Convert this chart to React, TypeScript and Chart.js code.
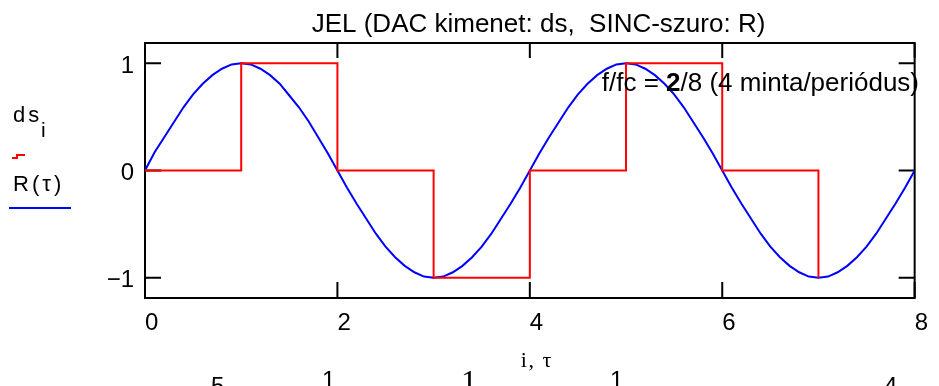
import React, { useEffect, useRef } from "react";
import { Chart, registerables } from "chart.js";

Chart.register(...registerables);

// ---- data ----
const sampleIndex = [0, 1, 2, 3, 4, 5, 6, 7];
const dsValues = [0, 1, 0, -1, 0, 1, 0, -1];

const tauValues = [
  0.0, 0.1, 0.2, 0.3, 0.4, 0.5, 0.6, 0.7, 0.8, 0.9,
  1.0, 1.1, 1.2, 1.3, 1.4, 1.5, 1.6, 1.7, 1.8, 1.9,
  2.0, 2.1, 2.2, 2.3, 2.4, 2.5, 2.6, 2.7, 2.8, 2.9,
  3.0, 3.1, 3.2, 3.3, 3.4, 3.5, 3.6, 3.7, 3.8, 3.9,
  4.0, 4.1, 4.2, 4.3, 4.4, 4.5, 4.6, 4.7, 4.8, 4.9,
  5.0, 5.1, 5.2, 5.3, 5.4, 5.5, 5.6, 5.7, 5.8, 5.9,
  6.0, 6.1, 6.2, 6.3, 6.4, 6.5, 6.6, 6.7, 6.8, 6.9,
  7.0, 7.1, 7.2, 7.3, 7.4, 7.5, 7.6, 7.7, 7.8, 7.9,
  8.0,
];
const rValues = [
  0.0, 0.17, 0.31, 0.45, 0.59, 0.71, 0.81, 0.89, 0.95, 0.99,
  1.0, 0.99, 0.95, 0.89, 0.81, 0.7, 0.59, 0.46, 0.31, 0.16,
  0.0, -0.16, -0.31, -0.45, -0.59, -0.71, -0.81, -0.89, -0.95, -0.99,
  -1.0, -0.99, -0.95, -0.89, -0.81, -0.71, -0.59, -0.45, -0.31, -0.16,
  0.0, 0.16, 0.31, 0.45, 0.59, 0.71, 0.81, 0.89, 0.95, 0.99,
  1.0, 0.99, 0.95, 0.89, 0.81, 0.71, 0.59, 0.45, 0.31, 0.16,
  0.0, -0.16, -0.31, -0.45, -0.59, -0.71, -0.81, -0.89, -0.95, -0.99,
  -1.0, -0.99, -0.95, -0.89, -0.81, -0.71, -0.59, -0.45, -0.31, -0.16,
  0.0,
];

const xTicks = [0, 2, 4, 6, 8];
const yTicks = [-1, 0, 1];

const titleText = "JEL (DAC kimenet: ds,  SINC-szuro: R)";
const noteParts = [
  { text: "f/fc = ", bold: false },
  { text: "2", bold: true },
  { text: "/8 (4 minta/periódus)", bold: false },
];
const xAxisTitle = "i, τ";

const SANS = '"Liberation Sans", Arial, sans-serif';
const SERIF = '"Liberation Serif", "Times New Roman", serif';

function drawSpaced(ctx: CanvasRenderingContext2D, text: string, x: number, y: number, spacing: number) {
  let cx = x;
  for (const ch of Array.from(text)) {
    ctx.fillText(ch, cx, y);
    cx += ctx.measureText(ch).width + spacing;
  }
  return cx - spacing - x;
}

function measureSpaced(ctx: CanvasRenderingContext2D, text: string, spacing: number) {
  const chars = Array.from(text);
  let w = 0;
  for (const ch of chars) w += ctx.measureText(ch).width;
  return w + spacing * (chars.length - 1);
}

const decorPlugin = {
  id: "decor",
  beforeDatasetsDraw(chart: any) {
    const { ctx, chartArea: a, scales } = chart;
    ctx.save();
    ctx.strokeStyle = "#000";
    ctx.lineWidth = 2;
    ctx.strokeRect(a.left, a.top, a.right - a.left, a.bottom - a.top);
    ctx.beginPath();
    for (const v of xTicks) {
      const px = scales.x.getPixelForValue(v);
      ctx.moveTo(px, a.bottom);
      ctx.lineTo(px, a.bottom - 16);
      ctx.moveTo(px, a.top);
      ctx.lineTo(px, a.top + 15);
    }
    for (const v of yTicks) {
      const py = scales.y.getPixelForValue(v);
      ctx.moveTo(a.left, py);
      ctx.lineTo(a.left + 16, py);
      ctx.moveTo(a.right, py);
      ctx.lineTo(a.right - 16, py);
    }
    ctx.stroke();
    ctx.restore();
  },
  afterDraw(chart: any) {
    const { ctx } = chart;
    ctx.save();
    ctx.fillStyle = "#000";
    ctx.textBaseline = "alphabetic";
    ctx.textAlign = "left";

    // title
    ctx.font = `26px ${SANS}`;
    ctx.textAlign = "center";
    ctx.fillText(titleText, 538.5, 32);
    ctx.textAlign = "left";

    // annotation (right aligned)
    const fonts = noteParts.map((p) => `${p.bold ? "bold " : ""}26px ${SANS}`);
    let total = 0;
    const widths = noteParts.map((p, i) => {
      ctx.font = fonts[i];
      const w = ctx.measureText(p.text).width;
      total += w;
      return w;
    });
    let nx = 919 - total;
    noteParts.forEach((p, i) => {
      ctx.font = fonts[i];
      ctx.fillText(p.text, nx, 91);
      nx += widths[i];
    });

    // left legend
    ctx.font = `22px ${SANS}`;
    drawSpaced(ctx, "ds", 13, 122, 3);
    ctx.font = `21px ${SANS}`;
    ctx.fillText("i", 41, 137);
    ctx.font = `22px ${SANS}`;
    drawSpaced(ctx, "R(τ)", 13, 191, 3);

    ctx.lineWidth = 2;
    ctx.strokeStyle = "#ff0000";
    ctx.beginPath();
    ctx.moveTo(12, 158);
    ctx.lineTo(17, 158);
    ctx.lineTo(17, 155);
    ctx.lineTo(25, 155);
    ctx.stroke();

    ctx.strokeStyle = "#0000ff";
    ctx.beginPath();
    ctx.moveTo(9, 208);
    ctx.lineTo(71, 208);
    ctx.stroke();

    // x axis title
    ctx.font = `22px ${SERIF}`;
    const tw = measureSpaced(ctx, xAxisTitle, 1.5);
    drawSpaced(ctx, xAxisTitle, 536 - tw / 2, 367, 1.5);

    // clipped text of the formula below the chart
    ctx.font = `24px ${SANS}`;
    ctx.fillText("5", 211, 394);
    ctx.fillText("1", 322, 388);
    ctx.fillText("1", 610, 388);
    ctx.fillText("4", 884, 394);
    ctx.font = `32px ${SERIF}`;
    ctx.fillText("1", 461, 392);

    ctx.restore();
  },
};

export default function App() {
  const canvasRef = useRef<HTMLCanvasElement | null>(null);

  useEffect(() => {
    const canvas = canvasRef.current;
    if (!canvas) return;
    const chart = new Chart(canvas, {
      type: "line",
      data: {
        datasets: [
          {
            label: "ds",
            data: sampleIndex.map((i, k) => ({ x: i, y: dsValues[k] })),
            borderColor: "#ff0000",
            borderWidth: 2,
            pointRadius: 0,
            stepped: "before",
            fill: false,
          },
          {
            label: "R",
            data: tauValues.map((t, k) => ({ x: t, y: rValues[k] })),
            borderColor: "#0000ff",
            borderWidth: 2,
            pointRadius: 0,
            tension: 0,
            fill: false,
          },
        ],
      },
      options: {
        responsive: false,
        animation: false,
        devicePixelRatio: 1,
        layout: { padding: { top: 43, right: 18, left: 0, bottom: 0 } },
        plugins: {
          legend: { display: false },
          title: { display: false },
          tooltip: { enabled: false },
        },
        scales: {
          x: {
            type: "linear",
            min: 0,
            max: 8,
            afterBuildTicks: (s: any) => {
              s.ticks = xTicks.map((v) => ({ value: v }));
            },
            afterFit: (s: any) => {
              s.height = 88;
            },
            grid: { display: false, drawTicks: false },
            border: { display: false },
            ticks: {
              font: { family: SANS, size: 24 },
              color: "#000",
              align: "start",
              padding: 11,
              maxRotation: 0,
              autoSkip: false,
              callback: (v: any) => String(v),
            },
          },
          y: {
            type: "linear",
            min: -1.19,
            max: 1.19,
            afterBuildTicks: (s: any) => {
              s.ticks = yTicks.map((v) => ({ value: v }));
            },
            afterFit: (s: any) => {
              s.width = 145;
            },
            grid: { display: false, drawTicks: false },
            border: { display: false },
            ticks: {
              font: { family: SANS, size: 24 },
              color: "#000",
              padding: 11,
              labelOffset: 3,
              autoSkip: false,
              callback: (v: any) => (v < 0 ? "\u2212" + Math.abs(v) : String(v)),
            },
          },
        },
      } as any,
      plugins: [decorPlugin],
    });
    return () => chart.destroy();
  }, []);

  return (
    <div
      style={{
        position: "fixed",
        left: 0,
        top: 0,
        width: 939,
        height: 386,
        background: "#fff",
      }}
    >
      <canvas ref={canvasRef} width={939} height={386} style={{ width: 939, height: 386 }} />
    </div>
  );
}
